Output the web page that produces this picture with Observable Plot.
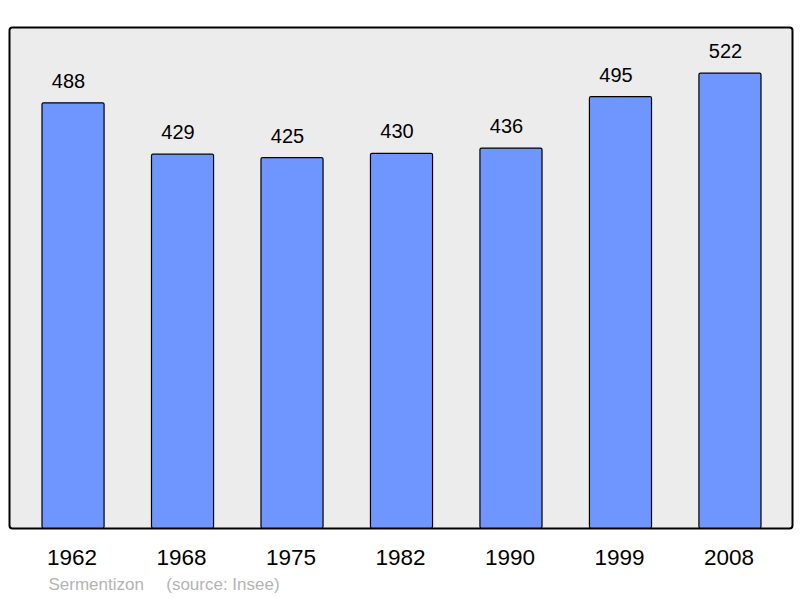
<!DOCTYPE html>
<html><head><meta charset="utf-8">
<script src="https://cdn.jsdelivr.net/npm/d3@7"></script>
<script src="https://cdn.jsdelivr.net/npm/@observablehq/plot@0.6"></script>
<style>body{margin:0;background:#fff;font-family:"Liberation Sans",Arial,sans-serif}</style>
</head><body><div id="chart"></div>
<script>
const years = ["1962","1968","1975","1982","1990","1999","2008"];
const population = [488,429,425,430,436,495,522];
const caption = "Sermentizon\u00a0\u00a0\u00a0\u00a0\u2009(source: Insee)";
const data = years.map((y,i)=>({year:y, pop:population[i]}));
const chart = Plot.plot({
  width:800, height:598,
  marginLeft:9, marginRight:8, marginTop:27, marginBottom:70,
  style:{fontFamily:"Liberation Sans, Arial, sans-serif", background:"#fff"},
  x:{domain:years, range:[18.3,784.7], paddingInner:0.433, paddingOuter:0.2165, round:false, label:null},
  y:{domain:[0,575], range:[528,27], axis:null},
  marks:[
    Plot.frame({fill:"#ececec", stroke:"#000", strokeWidth:2, rx:3}),
    Plot.barY(data,{x:"year", y:"pop", fill:"#6f96ff", stroke:"#000", strokeWidth:1.2, rx:1.5}),
    Plot.text(data,{x:"year", y:"pop", text:d=>String(d.pop), dy:-22, dx:-5, fontSize:20, fill:"#000"}),
    Plot.axisX({tickSize:0, tickPadding:21, dx:-1.5, fontSize:22.5, fill:"#000", label:null}),
    Plot.text([caption],{frameAnchor:"bottom-left", dx:39, dy:61, text:d=>d, textAnchor:"start", fontSize:17, fill:"#b4b4b4"})
  ]
});
document.getElementById("chart").appendChild(chart);
</script></body></html>
